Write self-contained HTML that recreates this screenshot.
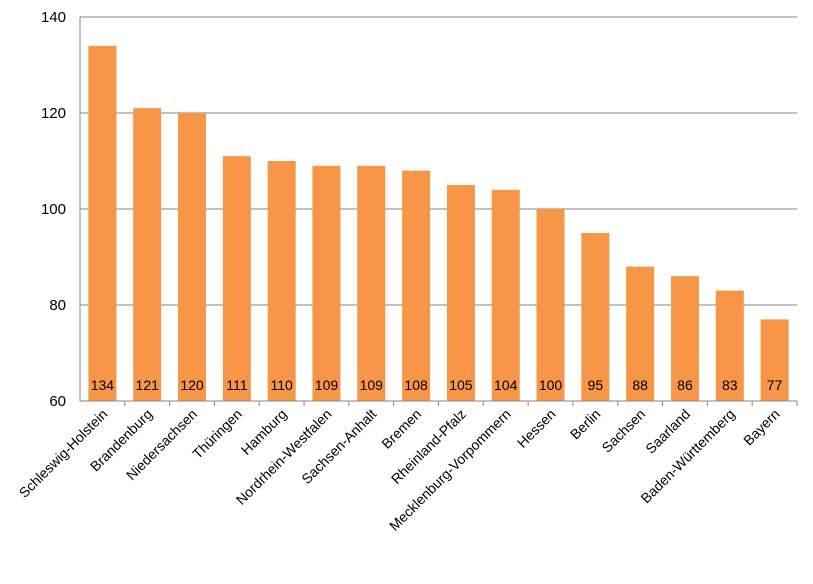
<!DOCTYPE html>
<html><head><meta charset="utf-8"><style>
body{margin:0;background:#fff;}
svg{font-family:"Liberation Sans",sans-serif;}
</style></head><body>
<svg id="chart" width="813" height="579"></svg>
<script>
const categories=["Schleswig-Holstein","Brandenburg","Niedersachsen","Thüringen","Hamburg","Nordrhein-Westfalen","Sachsen-Anhalt","Bremen","Rheinland-Pfalz","Mecklenburg-Vorpommern","Hessen","Berlin","Sachsen","Saarland","Baden-Württemberg","Bayern"];
const values=[134,121,120,111,110,109,109,108,105,104,100,95,88,86,83,77];
const yTicks=[60,80,100,120,140];
const NS="http://www.w3.org/2000/svg";
const svg=document.getElementById('chart');
const L=80,R=797,T=17,B=401,yMin=60,yMax=140;
const y=v=>B-(v-yMin)/(yMax-yMin)*(B-T);
const slot=(R-L)/categories.length;
const xc=i=>L+slot*(i+0.5);
function mk(t,a){const e=document.createElementNS(NS,t);for(const k in a)e.setAttribute(k,a[k]);svg.appendChild(e);return e;}
yTicks.forEach(v=>{
  const g=mk('line',{x1:L,x2:R,y1:y(v),y2:y(v),stroke:'#868686','stroke-width':1});
  
  
  const t=mk('text',{x:L-14,y:y(v)+5,'text-anchor':'end','font-size':15,fill:'#000'});
  t.textContent=v;
  
  
});
const ax=mk('line',{x1:L,x2:L,y1:T,y2:B,stroke:'#868686'});


categories.forEach((c,i)=>{
  const bw=28;
  const b=mk('rect',{x:xc(i)-bw/2,y:y(values[i]),width:bw,height:B-y(values[i]),fill:'#F79646'});
  
  
  const v=mk('text',{x:xc(i),y:390,'text-anchor':'middle','font-size':14,fill:'#000'});
  v.textContent=values[i];
  
  
  const tk=mk('line',{x1:L+slot*(i+1),x2:L+slot*(i+1),y1:B,y2:B+5,stroke:'#868686'});
  
  
  const lx=xc(i)+6,ly=B+14;
  const l=mk('text',{x:lx,y:ly,'text-anchor':'end','font-size':14,fill:'#000',transform:`rotate(-45 ${lx} ${ly})`});
  l.textContent=c;
  
  
});
const xa=mk('line',{x1:L,x2:R,y1:B,y2:B,stroke:'#868686'});


</script>
</body></html>
